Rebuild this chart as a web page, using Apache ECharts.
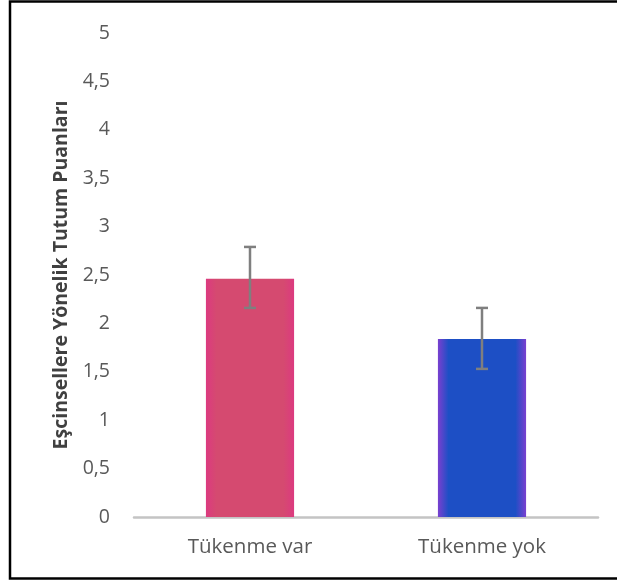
<!DOCTYPE html>
<html>
<head>
<meta charset="utf-8">
<script src="https://cdn.jsdelivr.net/npm/echarts@6/dist/echarts.min.js"></script>
<style>
html,body{margin:0;padding:0;background:#fff;}
#chart{width:617px;height:580px;}
</style>
</head>
<body>
<div id="chart"></div>
<script>
const categories = ['Tükenme var', 'Tükenme yok'];
const means = [2.46, 1.84];
const errLow = [2.16, 1.53];
const errHigh = [2.79, 2.16];
const yTicks = [0, 0.5, 1, 1.5, 2, 2.5, 3, 3.5, 4, 4.5, 5];

const chart = echarts.init(document.getElementById('chart'));

function grad(edge, center) {
  return {
    type: 'linear', x: 0, y: 0, x2: 1, y2: 0,
    colorStops: [
      {offset: 0, color: edge},
      {offset: 0.12, color: center},
      {offset: 0.88, color: center},
      {offset: 1, color: edge}
    ]
  };
}
const barColors = [grad('#dc3a80', '#d54a70'), grad('#7a40d0', '#1d4fc5')];

const option = {
  animation: false,
  backgroundColor: '#fff',
  grid: {left: 134, right: 19, top: 33, bottom: 63},
  xAxis: {
    type: 'category',
    data: categories,
    axisLine: {show: true, lineStyle: {color: '#c4c4c4', width: 2.5}},
    axisTick: {show: false},
    axisLabel: {color: '#595959', fontSize: 20.5, fontFamily: 'Open Sans', margin: 20}
  },
  yAxis: {
    type: 'value',
    min: 0, max: 5, interval: 0.5,
    axisLine: {show: false},
    axisTick: {show: false},
    splitLine: {show: false},
    axisLabel: {
      color: '#595959', fontSize: 19.5, fontFamily: 'Open Sans', margin: 24,
      formatter: v => String(v).replace('.', ',')
    },
    name: 'Eşcinsellere Yönelik Tutum Puanları',
    nameLocation: 'middle',
    nameGap: 62,
    nameTextStyle: {color: '#404040', fontSize: 19.5, fontWeight: 'bold', fontFamily: 'Open Sans'}
  },
  series: [
    {
      type: 'bar',
      barWidth: '38%',
      data: means.map((v, i) => ({value: v, itemStyle: {color: barColors[i]}})),
      z: 2
    },
    {
      type: 'custom',
      z: 5,
      data: categories.map((c, i) => [i, errLow[i], errHigh[i]]),
      renderItem: function (params, api) {
        const x = api.value(0);
        const lo = api.coord([x, api.value(1)]);
        const hi = api.coord([x, api.value(2)]);
        const half = 6;
        const style = {stroke: '#7f7f7f', lineWidth: 2.5, fill: null};
        return {
          type: 'group',
          children: [
            {type: 'line', shape: {x1: lo[0], y1: lo[1], x2: hi[0], y2: hi[1]}, style: style},
            {type: 'line', shape: {x1: lo[0] - half, y1: lo[1], x2: lo[0] + half, y2: lo[1]}, style: style},
            {type: 'line', shape: {x1: hi[0] - half, y1: hi[1], x2: hi[0] + half, y2: hi[1]}, style: style}
          ]
        };
      }
    }
  ],
  graphic: [
    {type: 'rect', shape: {x: 10, y: 1.5, width: 620, height: 577}, style: {fill: null, stroke: '#000', lineWidth: 2.5}, z: 100}
  ]
};
chart.setOption(option);
</script>
</body>
</html>
